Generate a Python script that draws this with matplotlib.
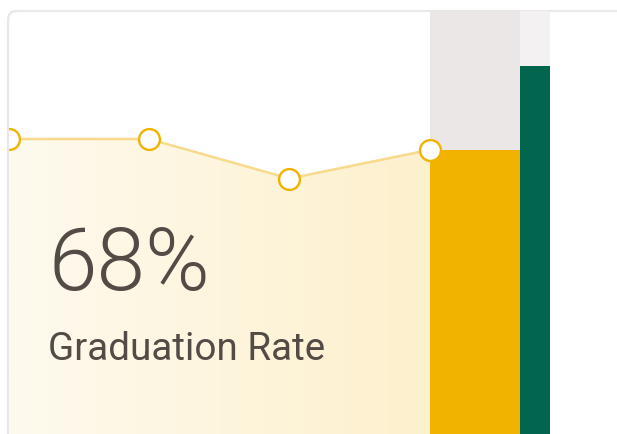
import numpy as np
import matplotlib
matplotlib.use("Agg")
import matplotlib.pyplot as plt
from matplotlib.patches import FancyBboxPatch, PathPatch
from matplotlib.transforms import IdentityTransform


# Chart data (percent)

trend_values  = [70.5, 70.5, 61.4, 68.0]
rate_value    = 68.0
target_value  = 87.4
headline      = "68%"
caption       = "Graduation Rate"

# Styling

GOLD       = "#f1b300"
GOLD_LINE  = "#f7da8c"
GREEN      = "#02664e"
TRACK_GOLD = "#ebe7e7"
TRACK_GRN  = "#f3f1f2"
BORDER     = "#e9e7e7"
TEXT       = "#524b46"
FILL_LEFT  = np.array([254, 250, 238]) / 255
FILL_RIGHT = np.array([253, 240, 205]) / 255
FONT       = ["Roboto", "DejaVu Sans"]

W, H, DPI = 617, 434, 100

fig = plt.figure(figsize=(W / DPI, H / DPI), dpi=DPI)
fig.patch.set_facecolor("white")

# card outline, in pixels
card = FancyBboxPatch(
    (8, -60), 700, 434 - 11 + 60,
    boxstyle="round,pad=0,rounding_size=9",
    transform=IdentityTransform(),
    facecolor="white", edgecolor=BORDER, linewidth=1.6, zorder=-1,
)
fig.patches.append(card)

# axes: one unit of x = spacing between trend points
left_px, step_px, first_px = 8.5, 140.4, 8.6
ax = fig.add_axes([left_px / W, -11 / H, (W - left_px) / W, 1.0])
ax.patch.set_visible(False)
ax.set_xlim((left_px - first_px) / step_px, (W - first_px) / step_px)
ax.set_ylim(0, 100)
ax.axis("off")

x = np.arange(len(trend_values))

# gradient area under the trend line
area = ax.fill_between(x, trend_values, 0, facecolor="none", edgecolor="none")
clip = PathPatch(area.get_paths()[0], transform=ax.transData,
                 facecolor="none", edgecolor="none")
ax.add_patch(clip)
t = np.linspace(0, 1, 256)
grad = FILL_LEFT[None, :] * (1 - t[:, None]) + FILL_RIGHT[None, :] * t[:, None]
im = ax.imshow(grad[None, :, :], extent=[x[0], x[-1], 0, 100],
               aspect="auto", interpolation="bilinear", zorder=1)
im.set_clip_path(clip)

# bars: tracks then values
bar_x0 = x[-1]
gold_w = 90 / step_px
green_w = 30 / step_px
ax.bar(bar_x0, 100, width=gold_w, align="edge", color=TRACK_GOLD, zorder=2)
ax.bar(bar_x0, rate_value, width=gold_w, align="edge", color=GOLD, zorder=3)
ax.bar(bar_x0 + gold_w, 100, width=green_w, align="edge", color=TRACK_GRN, zorder=2)
ax.bar(bar_x0 + gold_w, target_value, width=green_w, align="edge", color=GREEN, zorder=3)

# trend line with hollow markers
ax.plot(x, trend_values, color=GOLD_LINE, linewidth=1.8, zorder=4)
ax.plot(x, trend_values, linestyle="none", marker="o", markersize=15,
        markerfacecolor="white", markeredgecolor=GOLD, markeredgewidth=1.7,
        zorder=5)

# headline text (300 = Light; "light" would resolve to Thin)
fig.text(49 / W, 1 - 290 / H, headline, fontsize=63, family=FONT,
         fontweight=300, color=TEXT, va="baseline", ha="left")
fig.text(48 / W, 1 - 360 / H, caption, fontsize=27.8, family=FONT,
         color=TEXT, va="baseline", ha="left")

fig.savefig("out.png", dpi=DPI)
